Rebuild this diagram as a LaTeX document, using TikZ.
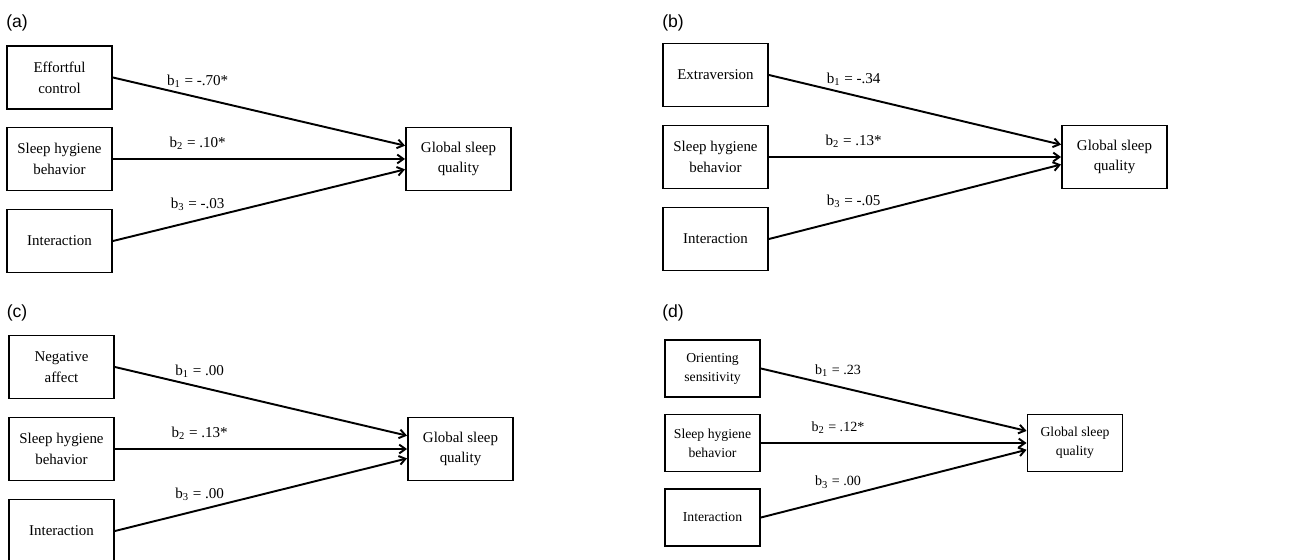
\documentclass[tikz,border=0pt]{standalone}
\usepackage{fontspec}
\setmainfont{Liberation Serif}
\newfontfamily\panelfont{Liberation Sans}
\usetikzlibrary{arrows.meta}

\tikzset{
    varbox/.style={draw, line width=1.1pt, minimum width=2.1cm, minimum height=1.26cm,
        align=center, inner sep=1pt, font=\fontsize{8.5}{11.8}\selectfont},
    smallbox/.style={varbox, minimum width=1.9cm, minimum height=1.14cm,
        font=\fontsize{7.8}{10.8}\selectfont},
    coefarrow/.style={line width=1.1pt, -{Straight Barb[length=3.5pt, width=5pt]}},
    coef/.style={pos=0.29, above=5pt, inner sep=0pt, font=\fontsize{8.6}{10}\selectfont},
    smallcoef/.style={coef, font=\fontsize{8}{9}\selectfont},
    panel/.style={font=\panelfont\fontsize{10}{12}\selectfont}
}

\begin{document}
\begin{tikzpicture}[x=0.02cm, y=-0.02cm]
    \useasboundingbox (0,0) rectangle (1290,560);

    % Panel (a)
    \node[panel] (pa) at (17,23) {(a)};
    \node[varbox] (a1) at (59.5,77.5) {Effortful\\control};
    \node[varbox] (a2) at (59.5,159) {Sleep hygiene\\behavior};
    \node[varbox] (a3) at (59.5,241) {Interaction};
    \node[varbox] (ga) at (458.5,159) {Global sleep\\quality};
    \draw[coefarrow] (a1.east) -- node[coef] {b\textsubscript{1} = -.70*} (ga.166);
    \draw[coefarrow] (a2.east) -- node[coef] {b\textsubscript{2} = .10*} (ga.west);
    \draw[coefarrow] (a3.east) -- node[coef] {b\textsubscript{3} = -.03} (ga.191);

    % Panel (b)
    \node[panel] (pb) at (673,23) {(b)};
    \node[varbox] (b1) at (715.5,75) {Extraversion};
    \node[varbox] (b2) at (715.5,157) {Sleep hygiene\\behavior};
    \node[varbox] (b3) at (715.5,239) {Interaction};
    \node[varbox] (gb) at (1114.5,157) {Global sleep\\quality};
    \draw[coefarrow] (b1.east) -- node[coef] {b\textsubscript{1} = -.34} (gb.167);
    \draw[coefarrow] (b2.east) -- node[coef] {b\textsubscript{2} = .13*} (gb.west);
    \draw[coefarrow] (b3.east) -- node[coef] {b\textsubscript{3} = -.05} (gb.188);

    % Panel (c)
    \node[panel] (pc) at (17,313) {(c)};
    \node[varbox] (c1) at (61.5,367) {Negative\\affect};
    \node[varbox] (c2) at (61.5,449) {Sleep hygiene\\behavior};
    \node[varbox] (c3) at (61.5,531) {Interaction};
    \node[varbox] (gc) at (460.5,449) {Global sleep\\quality};
    \draw[coefarrow] (c1.east) -- node[coef] {b\textsubscript{1} = .00} (gc.166);
    \draw[coefarrow] (c2.east) -- node[coef] {b\textsubscript{2} = .13*} (gc.west);
    \draw[coefarrow] (c3.east) -- node[coef] {b\textsubscript{3} = .00} (gc.190);

    % Panel (d)
    \node[panel] (pd) at (673,313) {(d)};
    \node[smallbox] (d1) at (712.5,368.5) {Orienting\\sensitivity};
    \node[smallbox] (d2) at (712.5,443) {Sleep hygiene\\behavior};
    \node[smallbox] (d3) at (712.5,517.5) {Interaction};
    \node[smallbox] (gd) at (1075,443) {Global sleep\\quality};
    \draw[coefarrow] (d1.east) -- node[smallcoef] {b\textsubscript{1} = .23} (gd.166);
    \draw[coefarrow] (d2.east) -- node[smallcoef] {b\textsubscript{2} = .12*} (gd.west);
    \draw[coefarrow] (d3.east) -- node[smallcoef] {b\textsubscript{3} = .00} (gd.188);
\end{tikzpicture}
\end{document}
